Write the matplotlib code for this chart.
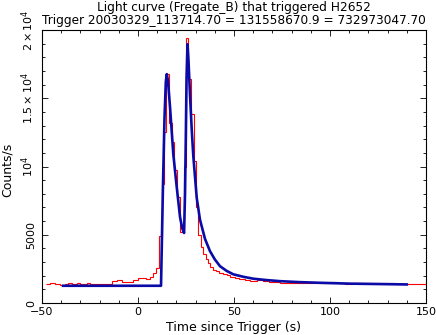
import numpy as np
import matplotlib
matplotlib.use('Agg')
import matplotlib.pyplot as plt
from matplotlib.ticker import MultipleLocator

# light curve (red histogram): left bin edges and counts/s
red_edges = [-48, -45.8, -43.2, -40.6, -38, -36.3, -34.5, -31.9, -30.2, -26.7,
             -25, -13.7, -11.1, -8.5, -5, -2.4, 0.2, 1.9, 4.2, 6.2,
             8.0, 9.6, 11.2, 12.3, 13.3, 14.6, 16.3, 17.5, 18.75, 20.1,
             21.9, 23.8, 24.9, 26.3, 27.6, 29.0, 30.3, 31.3, 32.6, 33.9,
             35.2, 36.4, 37.6, 39.2, 40.8, 42.4, 44.4, 46.2, 48.0, 50.4,
             52.5, 55.5, 58.3, 62, 65, 68, 71, 74, 78, 82,
             86, 90, 95, 100, 104, 108, 112, 116, 120, 125,
             130, 135, 140, 144, 150]
red_counts = [1390, 1440, 1360, 1310, 1390, 1440, 1390, 1440, 1390, 1440,
              1360, 1630, 1680, 1560, 1510, 1680, 1850, 1800, 1730, 1920,
              2170, 2600, 4890, 8740, 12500, 16810, 13200, 11780, 9710, 7760,
              5210, 9950, 19440, 16400, 13850, 10440, 7000, 4960, 4100, 3600,
              3260, 2900, 2650, 2450, 2360, 2210, 2100, 2040, 1920, 1850,
              1750, 1720, 1630, 1650, 1580, 1540, 1520, 1500, 1480, 1470,
              1450, 1430, 1440, 1510, 1440, 1420, 1500, 1440, 1430, 1450,
              1440, 1400, 1380, 1420]

# fitted model (blue)
model_t = [-39, 12.0, 13.0, 13.8, 14.5, 15.0, 15.6, 16.7, 18.4, 20.1,
           21.9, 23.0, 24.0, 24.5, 24.9, 25.3, 25.8, 26.3, 27.1, 28.0,
           28.8, 30.6, 32.3, 34.9, 37.5, 40, 42.7, 46.2, 49.7, 54.9,
           60.1, 67, 74, 84, 95, 110, 125, 140]
model_c = [1263, 1263, 8500, 13500, 16200, 16770, 16300, 14330, 10900, 8600,
           6300, 5500, 5130, 8000, 12000, 16500, 18960, 17800, 15200, 12700,
           10800, 7700, 6100, 4700, 3800, 3200, 2700, 2350, 2100, 1920,
           1780, 1680, 1600, 1530, 1480, 1420, 1390, 1360]

ytick_vals = [0, 5000, 10000, 15000, 20000]
ytick_labels = ['0', '5000', r'$10^4$', r'$1.5\times10^4$', r'$2\times10^4$']

plt.rcParams['font.family'] = 'DejaVu Sans'
plt.rcParams['mathtext.fontset'] = 'dejavusans'

fig = plt.figure(figsize=(4.36, 3.35), dpi=100)
ax = fig.add_axes([0.0963, 0.0955, 0.8807, 0.8149])

ax.stairs(red_counts, red_edges, baseline=None, color='#ff0000', lw=0.8)
ax.plot(model_t, model_c, color='#0a0aa8', lw=1.9)

ax.set_xlim(-50, 150)
ax.set_ylim(0, 20000)
ax.xaxis.set_major_locator(MultipleLocator(50))
ax.xaxis.set_minor_locator(MultipleLocator(10))
ax.set_yticks(ytick_vals, ytick_labels)
ax.yaxis.set_minor_locator(MultipleLocator(1000))
ax.tick_params(which='both', direction='in', top=True, right=True, width=0.6,
               labelsize=8, colors='black')
ax.tick_params(which='major', length=4)
ax.tick_params(which='minor', length=2)
ax.tick_params(axis='x', pad=3)
ax.tick_params(axis='y', pad=4)
plt.setp(ax.get_yticklabels(), rotation=90, va='center')
for s in ax.spines.values():
    s.set_linewidth(0.8)

ax.set_xlabel('Time since Trigger (s)', fontsize=9, va='center')
ax.xaxis.set_label_coords(0.5, -0.088)
ax.set_ylabel('Counts/s', fontsize=9, va='center')
ax.yaxis.set_label_coords(-0.091, 0.487)
fig.text(0.537, 0.979, 'Light curve (Fregate_B) that triggered H2652',
         ha='center', va='center', fontsize=8.7)
fig.text(0.537, 0.940, 'Trigger 20030329_113714.70 = 131558670.9 = 732973047.70',
         ha='center', va='center', fontsize=8.7)

fig.savefig('out.png', dpi=100)
